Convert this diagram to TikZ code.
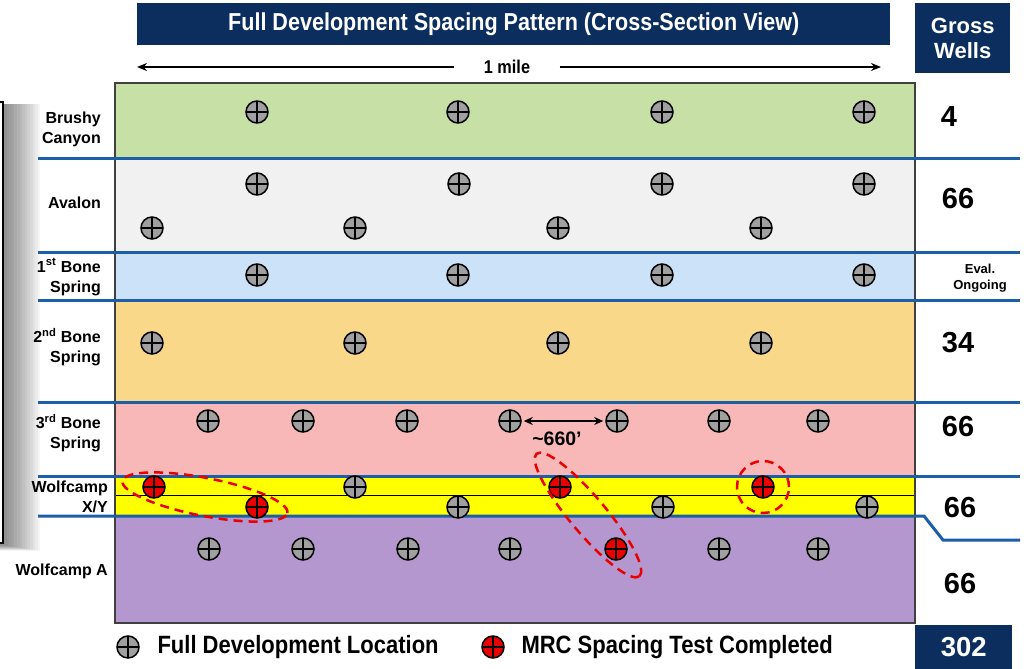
\documentclass[tikz,border=0pt]{standalone}
\usepackage{fontspec}
\setmainfont{Liberation Sans}
\newfontfamily\narrowfont{Liberation Sans}[FakeStretch=0.88]
\usetikzlibrary{arrows.meta}
\definecolor{navy}{RGB}{12,46,94}
\definecolor{contactblue}{RGB}{28,94,168}
\definecolor{brushygreen}{RGB}{198,224,166}
\definecolor{avalongray}{RGB}{241,241,241}
\definecolor{boneblue}{RGB}{204,226,248}
\definecolor{boneorange}{RGB}{250,216,138}
\definecolor{bonepink}{RGB}{248,184,184}
\definecolor{wolfyellow}{RGB}{255,255,0}
\definecolor{wolfpurple}{RGB}{180,151,206}
\definecolor{wellgray}{RGB}{160,160,160}
\definecolor{mrcred}{RGB}{235,0,0}

\begin{document}
\begin{tikzpicture}[x=1pt,y=-1pt,
    well/.style={circle,draw=black,line width=1.5pt,fill=wellgray,minimum size=22pt,inner sep=0pt,
      path picture={\draw[line width=1.3pt] (path picture bounding box.north) -- (path picture bounding box.south)
        (path picture bounding box.west) -- (path picture bounding box.east);}},
    mrc/.style={well,fill=mrcred},
    contact/.style={draw=contactblue,line width=3pt},
    zonelabel/.style={anchor=east,align=right,inner sep=0pt,font=\bfseries\fontsize{16}{20}\selectfont},
    wellcount/.style={font=\bfseries\fontsize{29}{32}\selectfont},
    banner/.style={fill=navy,text=white,inner sep=0pt},
    mrcloop/.style={draw=mrcred,line width=2.5pt,dash pattern=on 9pt off 6pt}]
  \useasboundingbox (0,0) rectangle (1026,669);

  % box at the left edge, with its shadow
  \foreach \i in {1,...,14}
    \fill[black,opacity=0.04] (0,104) rectangle (4+2.6*\i,545+0.4*\i);
  \fill[white] (-2,102) rectangle (3,543);
  \draw[black,line width=1.5pt] (-2,102) -- (3,102) -- (3,543) -- (-2,543);

  % title and column head
  \node[banner,minimum width=753pt,minimum height=42pt,anchor=north west] (title) at (137,3)
    {\narrowfont\bfseries\fontsize{24.5}{28}\selectfont Full Development Spacing Pattern (Cross-Section View)};
  \node[banner,minimum width=95pt,minimum height=70pt,anchor=north west,align=center,
    font=\bfseries\fontsize{22}{25}\selectfont] (gross) at (915,3) {Gross\\Wells};
  \node[banner,minimum width=97pt,minimum height=44pt,anchor=north west,
    font=\bfseries\fontsize{27.5}{30}\selectfont] (total) at (915,625) {302};

  % 1 mile
  \node[font=\narrowfont\bfseries\fontsize{18.5}{20}\selectfont] (mile) at (507,67) {1 mile};
  \coordinate (mileW) at (137,67);
  \coordinate (mileE) at (881,67);
  \draw[line width=1.6pt,-{Stealth[length=10pt,width=8pt]}] (mile.west) ++(-26,0) -- (mileW);
  \draw[line width=1.6pt,-{Stealth[length=10pt,width=8pt]}] (mile.east) ++(26,0) -- (mileE);

  % beds
  \fill[brushygreen] (115,83) rectangle (915,158);
  \fill[avalongray] (115,158) rectangle (915,252);
  \fill[boneblue] (115,252) rectangle (915,300);
  \fill[boneorange] (115,300) rectangle (915,402);
  \fill[bonepink] (115,402) rectangle (915,476);
  \fill[wolfyellow] (115,476) rectangle (915,516);
  \fill[wolfpurple] (115,516) rectangle (915,623);
  \draw[black,line width=1pt] (115,495) -- (915,495);
  \draw[black!75,line width=2pt] (115,83) rectangle (915,623);

  % zone names
  \node[zonelabel] (brushy) at (101,129) {Brushy\\Canyon};
  \node[zonelabel] (avalon) at (101,203) {Avalon};
  \node[zonelabel] (bone1) at (101,277) {1\textsuperscript{st} Bone\\Spring};
  \node[zonelabel] (bone2) at (101,347) {2\textsuperscript{nd} Bone\\Spring};
  \node[zonelabel] (bone3) at (101,433) {3\textsuperscript{rd} Bone\\Spring};
  \node[zonelabel] (wolfxy) at (108,497) {Wolfcamp\\X/Y};
  \node[zonelabel] (wolfa) at (108,571) {Wolfcamp A};

  % contacts
  \foreach \y in {158,252,300,402,476}
    \draw[contact] (38,\y) -- (1020,\y);
  \draw[contact] (38,516) -- (924,516) -- (943,540) -- (1020,540);

  % well counts
  \node[wellcount] (nbrushy) at (949,117) {4};
  \node[wellcount] (navalon) at (958,199) {66};
  \node[align=center,font=\bfseries\fontsize{13}{16}\selectfont] (nbone1) at (980,278) {Eval.\\Ongoing};
  \node[wellcount] (nbone2) at (958,343) {34};
  \node[wellcount] (nbone3) at (958,427) {66};
  \node[wellcount] (nwolfxy) at (960,508) {66};
  \node[wellcount] (nwolfa) at (960,584) {66};

  % wells
  \foreach \x [count=\i] in {257,458,662,864}
    \node[well] (bc\i) at (\x,112) {};
  \foreach \x [count=\i] in {257,459,662,864}
    \node[well] (avu\i) at (\x,184) {};
  \foreach \x [count=\i] in {152,355,558,761}
    \node[well] (avl\i) at (\x,228) {};
  \foreach \x [count=\i] in {257,458,662,864}
    \node[well] (bs1\i) at (\x,275) {};
  \foreach \x [count=\i] in {152,355,558,761}
    \node[well] (bs2\i) at (\x,343) {};
  \foreach \x [count=\i] in {208,303,407,510,617,719,818}
    \node[well] (bs3\i) at (\x,421) {};
  \node[mrc] (xyu1) at (154,487) {};
  \node[well] (xyu2) at (355,487) {};
  \node[mrc] (xyu3) at (560,487) {};
  \node[mrc] (xyu4) at (763,487) {};
  \node[mrc] (xyl1) at (257,507) {};
  \node[well] (xyl2) at (458,507) {};
  \node[well] (xyl3) at (663,507) {};
  \node[well] (xyl4) at (867,507) {};
  \foreach \x [count=\i] in {209,303,408,510}
    \node[well] (wa\i) at (\x,549) {};
  \node[mrc] (wa5) at (616,549) {};
  \node[well] (wa6) at (719,549) {};
  \node[well] (wa7) at (818,549) {};

  % 660 ft spacing
  \draw[line width=1.6pt,{Stealth[length=9pt,width=8pt]}-{Stealth[length=9pt,width=8pt]},
    shorten <=2pt,shorten >=2pt] (bs34.east) -- (bs35.west);
  \node[font=\bfseries\fontsize{19.5}{22}\selectfont] (gap) at (557,439) {\textasciitilde660’};

  % spacing tests
  \draw[mrcloop,rotate around={-11:(205,497)}] (205,497) ellipse [x radius=84pt,y radius=19pt];
  \draw[mrcloop,rotate around={-50:(588,515)}] (588,515) ellipse [x radius=80pt,y radius=18pt];
  \draw[mrcloop] (xyu4) circle [radius=26pt];

  % legend
  \node[well] (keyfull) at (128,647) {};
  \node[anchor=west,font=\narrowfont\bfseries\fontsize{25}{28}\selectfont] (keyfulltext) at (154,647) {Full Development Location};
  \node[mrc] (keymrc) at (493,647) {};
  \node[anchor=west,font=\narrowfont\bfseries\fontsize{25}{28}\selectfont] (keymrctext) at (518,647) {MRC Spacing Test Completed};
\end{tikzpicture}
\end{document}
